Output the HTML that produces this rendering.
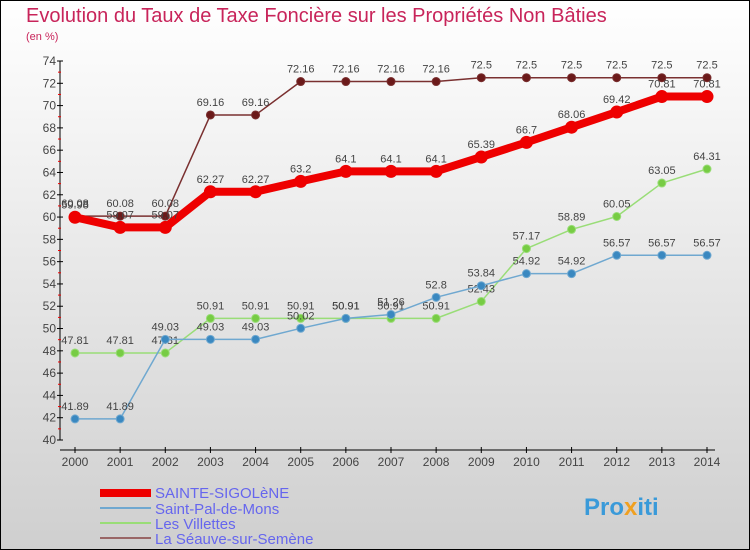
<!DOCTYPE html>
<html><head><meta charset="utf-8"><style>
html,body{margin:0;padding:0}
body{width:750px;height:550px;overflow:hidden;font-family:"Liberation Sans",sans-serif}
svg{display:block}
</style></head><body>
<svg id="chart" width="750" height="550" viewBox="0 0 750 550">
<defs><linearGradient id="bg" x1="0" y1="0" x2="0" y2="1"><stop offset="0" stop-color="#ffffff"/><stop offset="1" stop-color="#cfcfcf"/></linearGradient></defs>
<rect x="0.5" y="0.5" width="749" height="549" fill="url(#bg)" stroke="#000"/>
<text x="26" y="22" font-size="20" fill="#c8245a">Evolution du Taux de Taxe Foncière sur les Propriétés Non Bâties</text>
<text x="26" y="40" font-size="11" fill="#c8245a">(en %)</text>
<g id="axes"></g><g id="series"></g>
<g>
<rect x="100" y="489" width="51" height="8" fill="#e00"/>
<text x="155" y="498" font-size="15" fill="#6666ee">SAINTE-SIGOLèNE</text>
<rect x="100" y="507" width="51" height="2" fill="#6fa8d0"/>
<text x="155" y="514" font-size="15" fill="#6666ee">Saint-Pal-de-Mons</text>
<rect x="100" y="522" width="51" height="2" fill="#99dd77"/>
<text x="155" y="529" font-size="15" fill="#6666ee">Les Villettes</text>
<rect x="100" y="537" width="51" height="2" fill="#996666"/>
<text x="155" y="544" font-size="15" fill="#6666ee">La Séauve-sur-Semène</text>
</g>
<g><text x="584" y="515" font-size="24" font-weight="bold" fill="#3a9ad9">Pro<tspan fill="#f0a020">x</tspan>iti</text></g>
</svg>
<script>
const years=[2000,2001,2002,2003,2004,2005,2006,2007,2008,2009,2010,2011,2012,2013,2014];
const sainte=[59.98,59.07,59.07,62.27,62.27,63.2,64.1,64.1,64.1,65.39,66.7,68.06,69.42,70.81,70.81];
const saintPal=[41.89,41.89,49.03,49.03,49.03,50.02,50.91,51.26,52.8,53.84,54.92,54.92,56.57,56.57,56.57];
const villettes=[47.81,47.81,47.81,50.91,50.91,50.91,50.91,50.91,50.91,52.43,57.17,58.89,60.05,63.05,64.31];
const seauve=[60.08,60.08,60.08,69.16,69.16,72.16,72.16,72.16,72.16,72.5,72.5,72.5,72.5,72.5,72.5];
const yTicks=[40,42,44,46,48,50,52,54,56,58,60,62,64,66,68,70,72,74];
const NS="http://www.w3.org/2000/svg";
const X=i=>75+i*(707-75)/(years.length-1);
const Y=v=>440-(v-40)*(440-61)/34;
function mk(t,a,p){const e=document.createElementNS(NS,t);for(const k in a)e.setAttribute(k,a[k]);p.appendChild(e);return e;}
const ax=document.getElementById('axes');
const yl=mk('line',{x1:60,y1:Y(74),x2:60,y2:Y(40),stroke:'#000'},ax);


const xl=mk('line',{x1:60,y1:450,x2:715,y2:450,stroke:'#000'},ax);


yTicks.forEach(v=>{
 mk('line',{x1:57,x2:63,y1:Y(v),y2:Y(v),stroke:'#000'},ax);
 if(v<74)mk('line',{x1:58,x2:61,y1:Y(v+1),y2:Y(v+1),stroke:'#e00'},ax);
 const t=mk('text',{x:56,y:Y(v)+4,'font-size':12,'text-anchor':'end',fill:'#444'},ax);t.textContent=v;
 
 
});
years.forEach((yr,i)=>{
 mk('line',{x1:X(i),x2:X(i),y1:447,y2:453,stroke:'#000'},ax);
 const t=mk('text',{x:X(i),y:466,'font-size':12,'text-anchor':'middle',fill:'#444'},ax);t.textContent=yr;
 
 
});
const sg=document.getElementById('series');
function series(vals,color,dot,w,r,name){
 const g=mk('g',{},sg);
 
 
 mk('polyline',{points:vals.map((v,i)=>X(i)+','+Y(v)).join(' '),fill:'none',stroke:color,'stroke-width':w,'stroke-linejoin':'round'},g);
 vals.forEach((v,i)=>{
  const c=mk('circle',{cx:X(i),cy:Y(v),r:r,fill:dot,stroke:color,'stroke-width':1},g);
  
  
  const t=mk('text',{x:X(i),y:Y(v)-9,'font-size':11,'text-anchor':'middle',fill:'#444'},g);t.textContent=v;
  
  
 });
}
series(seauve,'#7a3030','#6b1a1a',1.5,4,'series-seauve');
series(villettes,'#99dd77','#77cc44',1.5,4,'series-villettes');
series(saintPal,'#6fa8d0','#3a88c0',1.5,4,'series-saint-pal');
series(sainte,'#ee0000','#ee0000',8,6,'series-sainte-sigolene');
</script>
</body></html>
